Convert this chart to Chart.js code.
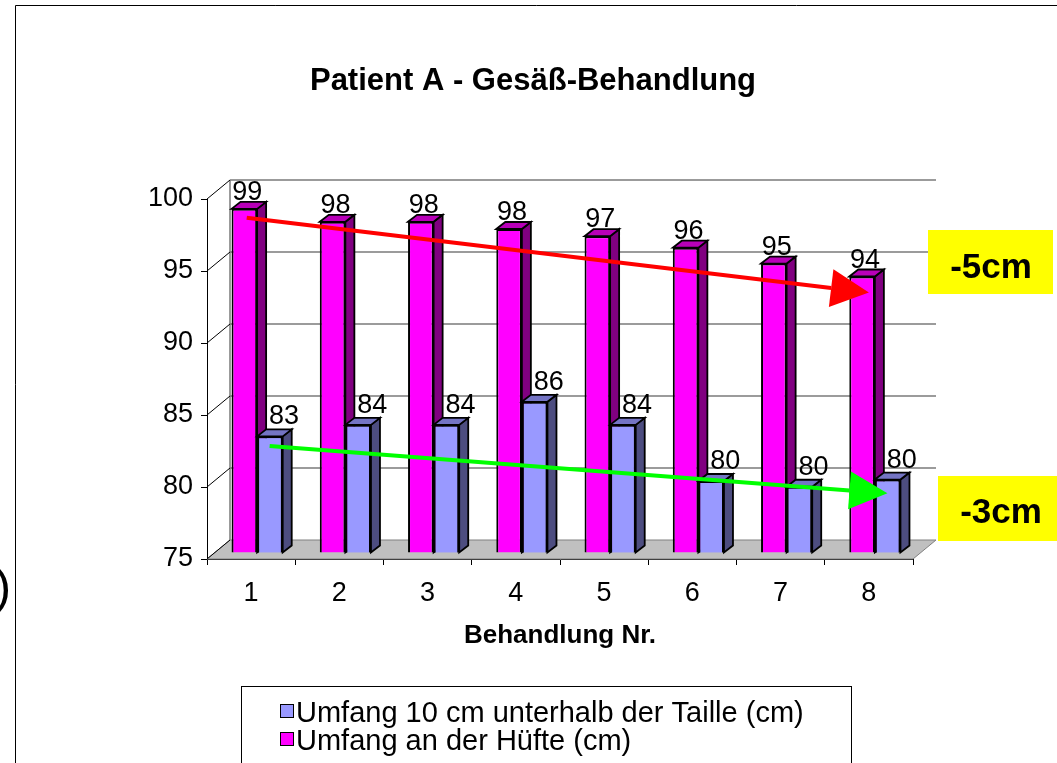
<!DOCTYPE html>
<html>
<head>
<meta charset="utf-8">
<script src="https://cdn.jsdelivr.net/npm/chart.js@4"></script>
<style>
  html, body { margin: 0; padding: 0; background: #fff; }
  canvas { display: block; }
</style>
</head>
<body>
<canvas id="chart" width="1057" height="763"></canvas>
<script>
// values
const categories = ['1', '2', '3', '4', '5', '6', '7', '8'];
const hipValues = [98.9, 98.0, 98.0, 97.5, 97.0, 96.2, 95.1, 94.2];
const waistValues = [83.1, 83.9, 83.9, 85.5, 83.9, 80.0, 79.6, 80.1];
const yMin = 75, yMax = 100, yStep = 5;

// hand drawn arrows (in category / value units) and their notes
const redArrow = { from: [-0.05, 98.7], to: [7.0, 93.5] };
const greenArrow = { from: [0.21, 82.85], to: [7.21, 79.56] };
const notes = ['-5cm', '-3cm'];

const FONT = '"Liberation Sans", Arial, sans-serif';
const WALL_DX = 23, WALL_DY = 19;   // depth of the back wall
const BAR_DX = 9, BAR_DY = 7;       // depth of a bar
const SHIFT_X = 6, SHIFT_Y = -6;    // bars stand a bit behind the front edge

const faces = {
  hip: { side: '#800080', top: '#b800b8' },
  waist: { side: '#4d4d80', top: '#7474c4' }
};

function poly(ctx, pts, fill) {
  ctx.beginPath();
  ctx.moveTo(pts[0][0], pts[0][1]);
  for (let i = 1; i < pts.length; i++) ctx.lineTo(pts[i][0], pts[i][1]);
  ctx.closePath();
  ctx.fillStyle = fill;
  ctx.fill();
  ctx.stroke();
}

function drawDepth(ctx, bar, col) {
  const p = bar.getProps(['x', 'y', 'base', 'width'], true);
  const l = p.x - p.width / 2, r = p.x + p.width / 2;
  ctx.lineWidth = 1.8;
  ctx.strokeStyle = '#000';
  poly(ctx, [[r, p.y], [r + BAR_DX, p.y - BAR_DY], [r + BAR_DX, p.base - BAR_DY], [r, p.base]], col.side);
  poly(ctx, [[l, p.y], [l + BAR_DX, p.y - BAR_DY], [r + BAR_DX, p.y - BAR_DY], [r, p.y]], col.top);
}

function arrow(ctx, chart, a, color) {
  const xs = chart.scales.x, ys = chart.scales.y;
  const x1 = xs.getPixelForValue(a.from[0]), y1 = ys.getPixelForValue(a.from[1]);
  const x2 = xs.getPixelForValue(a.to[0]), y2 = ys.getPixelForValue(a.to[1]);
  const ang = Math.atan2(y2 - y1, x2 - x1);
  const len = 38, half = 19;
  const bx = x2 - len * Math.cos(ang), by = y2 - len * Math.sin(ang);
  ctx.strokeStyle = color;
  ctx.lineWidth = 4;
  ctx.beginPath();
  ctx.moveTo(x1, y1);
  ctx.lineTo(bx, by);
  ctx.stroke();
  ctx.fillStyle = color;
  ctx.beginPath();
  ctx.moveTo(x2, y2);
  ctx.lineTo(bx + half * Math.sin(ang), by - half * Math.cos(ang));
  ctx.lineTo(bx - half * Math.sin(ang), by + half * Math.cos(ang));
  ctx.closePath();
  ctx.fill();
}

const pseudo3d = {
  id: 'pseudo3d',
  beforeDatasetsDraw(chart) {
    const { ctx, chartArea: a, scales: { y } } = chart;
    ctx.save();
    // floor
    ctx.strokeStyle = '#808080';
    ctx.lineWidth = 1;
    poly(ctx, [[a.left, a.bottom], [a.left + WALL_DX, a.bottom - WALL_DY],
      [a.right + WALL_DX, a.bottom - WALL_DY], [a.right, a.bottom]], '#c0c0c0');
    // back wall grid lines and left wall
    ctx.strokeStyle = '#7a7a7a';
    ctx.lineWidth = 1.5;
    y.ticks.forEach(t => {
      if (t.value === yMin) return;
      const py = y.getPixelForValue(t.value) - WALL_DY;
      ctx.beginPath();
      ctx.moveTo(a.left + WALL_DX, py);
      ctx.lineTo(a.right + WALL_DX, py);
      ctx.stroke();
    });
    ctx.beginPath();
    ctx.moveTo(a.left + WALL_DX, a.top - WALL_DY);
    ctx.lineTo(a.left + WALL_DX, a.bottom - WALL_DY);
    ctx.stroke();
    ctx.strokeStyle = '#000';
    ctx.lineWidth = 1;
    y.ticks.forEach(t => {
      const py = y.getPixelForValue(t.value);
      ctx.beginPath();
      ctx.moveTo(a.left, py);
      ctx.lineTo(a.left + WALL_DX, py - WALL_DY);
      ctx.stroke();
    });
    ctx.restore();
    ctx.save();
    ctx.translate(SHIFT_X, SHIFT_Y);
  },
  afterDatasetsDraw(chart) {
    const { ctx } = chart;
    const hipMeta = chart.getDatasetMeta(0), waistMeta = chart.getDatasetMeta(1);
    hipMeta.data.forEach(b => drawDepth(ctx, b, faces.hip));
    waistMeta.data.forEach(b => { b.draw(ctx); drawDepth(ctx, b, faces.waist); });
    // value labels
    ctx.fillStyle = '#000';
    ctx.font = '27px ' + FONT;
    ctx.textAlign = 'center';
    ctx.textBaseline = 'alphabetic';
    hipMeta.data.forEach((b, i) => ctx.fillText(Math.round(hipValues[i]), b.x + 3, b.y - 9));
    waistMeta.data.forEach((b, i) => ctx.fillText(Math.round(waistValues[i]), b.x + 14, b.y - 12));
    ctx.restore();
  },
  afterDraw(chart) {
    const { ctx, chartArea: a } = chart;
    ctx.save();
    arrow(ctx, chart, redArrow, '#ff0000');
    arrow(ctx, chart, greenArrow, '#00ff00');

    // title
    ctx.fillStyle = '#000';
    ctx.textAlign = 'center';
    ctx.textBaseline = 'alphabetic';
    ctx.font = 'bold 31px ' + FONT;
    ctx.fillText('Patient A - Gesäß-Behandlung', 533, 90);

    // notes in yellow boxes
    ctx.font = 'bold 35px ' + FONT;
    ctx.fillStyle = '#ffff00';
    ctx.fillRect(a.right + 15, 230, 125, 64);
    ctx.fillRect(a.right + 25, 476, 125, 65);
    ctx.fillStyle = '#000';
    ctx.fillText(notes[0], a.right + 78, 278);
    ctx.fillText(notes[1], a.right + 88, 523);

    // legend
    ctx.strokeStyle = '#000';
    ctx.lineWidth = 1;
    ctx.fillStyle = '#fff';
    ctx.fillRect(241.5, 686.5, 610, 90);
    ctx.strokeRect(241.5, 686.5, 610, 90);
    ctx.textAlign = 'left';
    ctx.font = '29px ' + FONT;
    const ds = chart.data.datasets.slice().reverse();
    ds.forEach((d, i) => {
      const top = 704 + i * 28;
      ctx.fillStyle = d.backgroundColor;
      ctx.fillRect(280.5, top + 0.5, 13, 13);
      ctx.strokeRect(280.5, top + 0.5, 13, 13);
      ctx.fillStyle = '#000';
      ctx.fillText(d.label, 296, top + 18);
    });

    // outer frame and the cut off bracket on the left
    ctx.beginPath();
    ctx.moveTo(15.5, 763);
    ctx.lineTo(15.5, 5.5);
    ctx.lineTo(1057, 5.5);
    ctx.stroke();
    ctx.textAlign = 'right';
    ctx.font = '49px ' + FONT;
    ctx.fillText(')', 11, 603);
    ctx.restore();
  }
};

new Chart(document.getElementById('chart'), {
  type: 'bar',
  data: {
    labels: categories,
    datasets: [
      {
        label: 'Umfang an der Hüfte (cm)',
        data: hipValues,
        backgroundColor: '#ff00ff',
        borderColor: '#000',
        borderWidth: 2,
        base: yMin,
        clip: false
      },
      {
        label: 'Umfang 10 cm unterhalb der Taille (cm)',
        data: waistValues,
        backgroundColor: '#9999ff',
        borderColor: '#000',
        borderWidth: 2,
        base: yMin,
        clip: false
      }
    ]
  },
  options: {
    responsive: false,
    animation: false,
    layout: { padding: { top: 199, right: 144, left: 0, bottom: 0 } },
    datasets: { bar: { categoryPercentage: 0.58, barPercentage: 1 } },
    plugins: {
      legend: { display: false },
      title: { display: false },
      tooltip: { enabled: false }
    },
    scales: {
      x: {
        afterFit: s => { s.height = 204; },
        grid: { offset: true, drawOnChartArea: false, tickLength: 6, color: '#000' },
        border: { display: true, color: '#000', width: 1 },
        ticks: { color: '#000', font: { family: FONT, size: 27 }, padding: 12, maxRotation: 0 },
        title: {
          display: true,
          text: 'Behandlung Nr.',
          color: '#000',
          font: { family: FONT, size: 26, weight: 'bold' },
          padding: { top: 0, bottom: 112 }
        }
      },
      y: {
        min: yMin,
        max: yMax,
        afterFit: s => { s.width = 207; },
        grid: { drawOnChartArea: false, tickLength: 6, color: '#000' },
        border: { display: true, color: '#000', width: 1 },
        ticks: { stepSize: yStep, color: '#000', font: { family: FONT, size: 27 }, padding: 8 }
      }
    }
  },
  plugins: [pseudo3d]
});
</script>
</body>
</html>
